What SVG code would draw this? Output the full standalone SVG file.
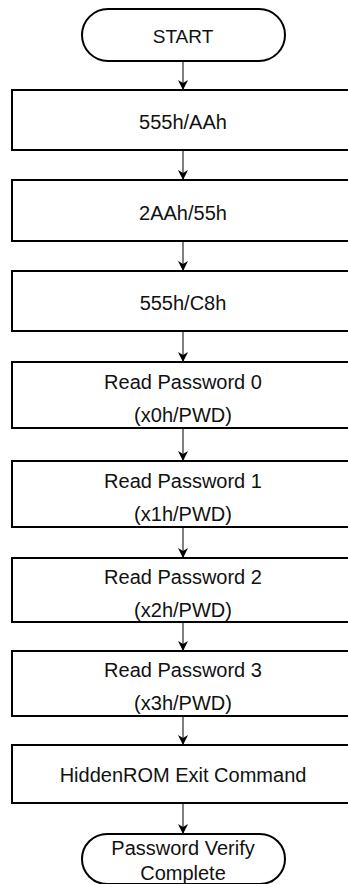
<svg xmlns="http://www.w3.org/2000/svg" width="348" height="884" viewBox="0 0 348 884">
<style>
.box{fill:#fff;stroke:#000;stroke-width:2}
.t{font-family:"Liberation Sans",Arial,sans-serif;font-size:20px;fill:#111;text-anchor:middle}
.c{stroke:#000;stroke-width:1;fill:none;marker-end:url(#ah)}
</style>
<defs>
<marker id="ah" markerWidth="10" markerHeight="10" refX="9" refY="5" orient="auto" markerUnits="userSpaceOnUse">
<path d="M0,0 L10,5 L0,10 L3,5 Z" fill="#000"/>
</marker>
</defs>
<rect width="348" height="884" fill="#fff"/>
<g id="connectors">
<line class="c" x1="183" y1="62" x2="183" y2="89"/>
<line class="c" x1="183" y1="151" x2="183" y2="179"/>
<line class="c" x1="183" y1="242" x2="183" y2="270"/>
<line class="c" x1="183" y1="332" x2="183" y2="361"/>
<line class="c" x1="183" y1="429" x2="183" y2="460"/>
<line class="c" x1="183" y1="528" x2="183" y2="557"/>
<line class="c" x1="183" y1="623" x2="183" y2="650"/>
<line class="c" x1="183" y1="717" x2="183" y2="744"/>
<line class="c" x1="183" y1="804" x2="183" y2="833"/>
</g>
<g id="start">
<rect class="box" x="82" y="9" width="203" height="52" rx="26"/>
<text class="t" x="183" y="43" style="font-size:19px">START</text>
</g>
<g id="n1">
<rect class="box" x="12" y="90" width="342" height="60"/>
<text class="t" x="183" y="129">555h/AAh</text>
</g>
<g id="n2">
<rect class="box" x="12" y="180" width="342" height="61"/>
<text class="t" x="183" y="220">2AAh/55h</text>
</g>
<g id="n3">
<rect class="box" x="12" y="271" width="342" height="60"/>
<text class="t" x="183" y="310">555h/C8h</text>
</g>
<g id="n4">
<rect class="box" x="12" y="362" width="342" height="66"/>
<text class="t" x="183" y="389">Read Password 0</text>
<text class="t" x="183" y="422">(x0h/PWD)</text>
</g>
<g id="n5">
<rect class="box" x="12" y="461" width="342" height="66"/>
<text class="t" x="183" y="488">Read Password 1</text>
<text class="t" x="183" y="521">(x1h/PWD)</text>
</g>
<g id="n6">
<rect class="box" x="12" y="558" width="342" height="64"/>
<text class="t" x="183" y="584">Read Password 2</text>
<text class="t" x="183" y="617">(x2h/PWD)</text>
</g>
<g id="n7">
<rect class="box" x="12" y="651" width="342" height="65"/>
<text class="t" x="183" y="677">Read Password 3</text>
<text class="t" x="183" y="710">(x3h/PWD)</text>
</g>
<g id="n8">
<rect class="box" x="12" y="745" width="342" height="58"/>
<text class="t" x="183" y="782">HiddenROM Exit Command</text>
</g>
<g id="end">
<rect class="box" x="82" y="834" width="203" height="50" rx="25"/>
<text class="t" x="183" y="855">Password Verify</text>
<text class="t" x="183" y="880">Complete</text>
</g>
</svg>
